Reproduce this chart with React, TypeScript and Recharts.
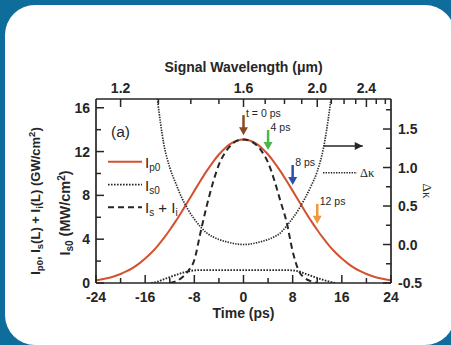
import React from 'react';
import { ComposedChart, Line, XAxis, YAxis, ReferenceDot, ReferenceLine, Legend } from 'recharts';

// ---------------- data ----------------
const timePs = [
  -24, -23, -22, -21, -20, -19, -18, -17, -16, -15, -14, -13, -12, -11, -10, -9, -8, -7, -6, -5, -4, -3, -2, -1,
  0, 1, 2, 3, 4, 5, 6, 7, 8, 9, 10, 11, 12, 13, 14, 15, 16, 17, 18, 19, 20, 21, 22, 23, 24,
];

// pump intensity I_p0 (GW/cm^2), left axis
const pumpIp0 = [
  0.24, 0.34, 0.46, 0.62, 0.82, 1.08, 1.39, 1.77, 2.23, 2.76, 3.37, 4.07, 4.84, 5.67, 6.56, 7.48, 8.41, 9.33, 10.21, 11.02, 11.73, 12.31, 12.74, 13.01,
  13.1, 13.01, 12.74, 12.31, 11.73, 11.02, 10.21, 9.33, 8.41, 7.48, 6.56, 5.67, 4.84, 4.07, 3.37, 2.76, 2.23, 1.77, 1.39, 1.08, 0.82, 0.62, 0.46, 0.34, 0.24,
];

// phase mismatch Δκ, right axis
const deltaKappa = [
  null, null, null, null, null, null, null, null, null,
  2.6, 1.88, 1.32, 1.0, 0.79, 0.6, 0.45, 0.33, 0.23, 0.15, 0.1, 0.065, 0.04, 0.02, 0.005,
  0,
  0.005, 0.02, 0.04, 0.065, 0.1, 0.15, 0.24, 0.34, 0.46, 0.6, 0.76, 0.95, 1.25, 1.75, 2.45,
  null, null, null, null, null, null, null, null, null,
];

// seed signal I_s0 (MW/cm^2), left axis
const signalIs0 = [
  null, null, null, null, null, null, null, null, null,
  0, 0.12, 0.33, 0.54, 0.74, 0.92, 1.06, 1.15,
  1.18, 1.18, 1.18, 1.18, 1.18, 1.18, 1.18, 1.18, 1.18, 1.18, 1.18, 1.18, 1.18, 1.18, 1.18,
  1.15, 1.06, 0.86, 0.66, 0.46, 0.28, 0.12, 0,
  null, null, null, null, null, null, null, null, null,
];

// I_s(L) + I_i(L) (GW/cm^2), left axis
const signalIdlerSum = [
  null, null, null, null, null, null, null, null, null, null, null, null,
  0, 0.15, 0.5, 1.1, 2.1, 4.6, 7.0, 9.1, 10.8, 11.9, 12.6, 13.0,
  13.1,
  13.0, 12.65, 12.0, 11.0, 9.4, 7.5, 5.6, 2.9, 1.1, 0.45, 0.15, 0,
  null, null, null, null, null, null, null, null, null, null, null, null,
];

const bottomTicks = [-24, -20, -16, -12, -8, -4, 0, 4, 8, 12, 16, 20, 24];
const bottomTickLabels = [-24, -16, -8, 0, 8, 16, 24];
const leftTicks = [0, 2, 4, 6, 8, 10, 12, 14, 16];
const leftTickLabels = [0, 4, 8, 12, 16];
const rightTicks = [-0.5, -0.25, 0, 0.25, 0.5, 0.75, 1.0, 1.25, 1.5, 1.75];
const rightTickLabels = [-0.5, 0, 0.5, 1.0, 1.5];
const wavelengthTicks = [1.2, 1.3, 1.4, 1.5, 1.6, 1.7, 1.8, 1.9, 2.0, 2.1, 2.2, 2.3, 2.4, 2.5, 2.6];
const wavelengthTickLabels = [1.2, 1.6, 2.0, 2.4];

const arrowTimes = [0, 4, 8, 12];
const arrowTipValues = [13.5, 12.15, 8.95, 5.4];
const arrowLabels = ['t = 0 ps', '4 ps', '8 ps', '12 ps'];
const arrowColors = ['#8a4a1f', '#4cb84a', '#2c4fae', '#f2973a'];

const kappaArrowStart = 13.05;
const kappaArrowEnd = 19.4;
const kappaArrowLevel = 1.28;

// ---------------- styling ----------------
const W = 451;
const H = 345;
const FONT = '"Liberation Sans", Arial, Helvetica, sans-serif';
const SERIF = '"Liberation Serif", "Times New Roman", serif';
const INK = '#262626';
const RED = '#d4512f';

// top axis is linear in optical frequency (1/λ), centred at 1.6 µm ↔ t = 0
const PS_PER_INV_UM = 96;
const wavelengthToTime = (lam: number) => -PS_PER_INV_UM * (1 / lam - 1 / 1.6);
const timeToWavelength = (t: number) => 1 / (1 / 1.6 - t / PS_PER_INV_UM);

const rows = timePs.map((t, i) => ({
  t,
  ip0: pumpIp0[i],
  dk: deltaKappa[i],
  is0: signalIs0[i],
  sum: signalIdlerSum[i],
}));

const isIn = (list: number[], v: number) => list.some((l) => Math.abs(l - v) < 1e-6);

const tickText = { fontFamily: FONT, fontWeight: 700, fontSize: 14, fill: INK } as const;

function LeftTick(props: any) {
  const { x, y, payload } = props;
  const v = payload.value;
  const major = isIn(leftTickLabels, v);
  return (
    <g>
      <line x1={x} y1={y} x2={x + (major ? 8 : 5)} y2={y} stroke={INK} strokeWidth={1.5} />
      {major && (
        <text x={x - 6} y={y} dy="0.36em" textAnchor="end" {...tickText}>
          {v}
        </text>
      )}
    </g>
  );
}

function RightTick(props: any) {
  const { x, y, payload } = props;
  const v = payload.value;
  const major = isIn(rightTickLabels, v);
  return (
    <g>
      <line x1={x} y1={y} x2={x - (major ? 8 : 5)} y2={y} stroke={INK} strokeWidth={1.5} />
      {major && (
        <text x={x + 7} y={y} dy="0.36em" textAnchor="start" {...tickText}>
          {v.toFixed(1)}
        </text>
      )}
    </g>
  );
}

function BottomTick(props: any) {
  const { x, y, payload } = props;
  const v = payload.value;
  const major = isIn(bottomTickLabels, v);
  return (
    <g>
      <line x1={x} y1={y} x2={x} y2={y - (major ? 8 : 5)} stroke={INK} strokeWidth={1.5} />
      {major && (
        <text x={x} y={y + 18.5} textAnchor="middle" {...tickText}>
          {v}
        </text>
      )}
    </g>
  );
}

function TopTick(props: any) {
  const { x, y, payload } = props;
  const lam = Math.round(timeToWavelength(payload.value) * 10) / 10;
  const major = isIn(wavelengthTickLabels, lam);
  return (
    <g>
      <line x1={x} y1={y} x2={x} y2={y + (major ? 8 : 5)} stroke={INK} strokeWidth={1.5} />
      {major && (
        <text x={x} y={y - 6} textAnchor="middle" {...tickText}>
          {lam.toFixed(1)}
        </text>
      )}
    </g>
  );
}

function TopTitle(props: any) {
  const vb = props.viewBox || { x: 96, y: 0, width: 295, height: 99 };
  const cx = vb.x + vb.width / 2;
  return (
    <text x={cx} y={vb.y + vb.height - 27} textAnchor="middle" fontFamily={FONT} fontWeight={700} fontSize={14} fill={INK}>
      Signal Wavelength (μm)
    </text>
  );
}

function BottomTitle(props: any) {
  const vb = props.viewBox || { x: 96, y: 283, width: 295, height: 62 };
  const cx = vb.x + vb.width / 2;
  return (
    <text x={cx} y={vb.y + 35} textAnchor="middle" fontFamily={FONT} fontWeight={700} fontSize={14} fill={INK}>
      Time (ps)
    </text>
  );
}

function LeftTitle(props: any) {
  const vb = props.viewBox || { x: 0, y: 99, width: 96, height: 184 };
  const x1 = vb.x + 40;
  const x2 = vb.x + 70;
  const cy1 = vb.y + vb.height / 2 + 10;
  const cy2 = vb.y + vb.height / 2 + 22;
  const sub = { fontSize: 9.5 };
  return (
    <g fontFamily={FONT} fontWeight={700} fill={INK}>
      <text x={x1} y={cy1} fontSize={13} textAnchor="middle" transform={`rotate(-90 ${x1} ${cy1})`}>
        I<tspan dy={3} {...sub}>p0</tspan>
        <tspan dy={-3}>{', I'}</tspan>
        <tspan dy={3} {...sub}>s</tspan>
        <tspan dy={-3}>{'(L) + I'}</tspan>
        <tspan dy={3} {...sub}>i</tspan>
        <tspan dy={-3}>{'(L) (GW/cm'}</tspan>
        <tspan dy={-5} {...sub}>2</tspan>
        <tspan dy={5}>)</tspan>
      </text>
      <text x={x2} y={cy2} fontSize={14.5} textAnchor="middle" transform={`rotate(-90 ${x2} ${cy2})`}>
        I<tspan dy={3} fontSize={10}>s0</tspan>
        <tspan dy={-3}>{'  (MW/cm'}</tspan>
        <tspan dy={-5} fontSize={10}>2</tspan>
        <tspan dy={5}>)</tspan>
      </text>
    </g>
  );
}

function RightTitle(props: any) {
  const vb = props.viewBox || { x: 391, y: 99, width: 60, height: 184 };
  const cx = vb.x + 37;
  const cy = vb.y + vb.height / 2;
  return (
    <text x={cx} y={cy} dy="0.35em" textAnchor="middle" transform={`rotate(90 ${cx} ${cy})`} fontFamily={SERIF} fontSize={13} fill={INK}>
      Δκ
    </text>
  );
}

function makeArrow(color: string, label: string) {
  return (p: any) => {
    const { cx, cy } = p;
    return (
      <g>
        <line x1={cx} y1={cy - 20} x2={cx} y2={cy - 7} stroke={color} strokeWidth={2.5} />
        <path d={`M${cx - 4.5},${cy - 8} L${cx + 4.5},${cy - 8} L${cx},${cy} Z`} fill={color} />
        <text x={cx + 2.5} y={cy - 18.5} fontFamily={FONT} fontSize={10.5} fill={INK}>
          {label}
        </text>
      </g>
    );
  };
}

const RightArrowHead = (p: any) => {
  const { cx, cy } = p;
  return <path d={`M${cx - 8},${cy - 4} L${cx},${cy} L${cx - 8},${cy + 4} Z`} fill={INK} />;
};

function Overlay() {
  const lx1 = 108;
  const lx2 = 142;
  const rowsY = [161.7, 184.7, 207.3];
  const label = { fontFamily: FONT, fontSize: 15, fill: INK } as const;
  const sub = 10;
  return (
    <svg width={W} height={H} style={{ position: 'absolute', left: 0, top: 0, overflow: 'visible', pointerEvents: 'none' }}>
      <text x={111} y={137} fontFamily={FONT} fontSize={15.5} fill={INK}>
        (a)
      </text>
      <line x1={lx1} y1={rowsY[0]} x2={lx2} y2={rowsY[0]} stroke={RED} strokeWidth={2} />
      <text x={145} y={rowsY[0] + 6} {...label}>
        I<tspan dy={3} fontSize={sub}>p0</tspan>
      </text>
      <line x1={lx1} y1={rowsY[1]} x2={lx2} y2={rowsY[1]} stroke={INK} strokeWidth={1.8} strokeDasharray="1.6 1.4" />
      <text x={145} y={rowsY[1] + 6} {...label}>
        I<tspan dy={3} fontSize={sub}>s0</tspan>
      </text>
      <line x1={lx1} y1={rowsY[2]} x2={lx2} y2={rowsY[2]} stroke={INK} strokeWidth={2} strokeDasharray="6 4" />
      <text x={145} y={rowsY[2] + 6} {...label}>
        I<tspan dy={3} fontSize={sub}>s</tspan>
        <tspan dy={-3}>{' + I'}</tspan>
        <tspan dy={3} fontSize={sub}>i</tspan>
      </text>
      <line x1={323} y1={172.7} x2={357} y2={172.7} stroke={INK} strokeWidth={1.5} strokeDasharray="1.4 1.2" />
      <text x={360} y={172.7} dy="0.35em" fontFamily={SERIF} fontSize={12.5} fill={INK}>
        Δκ
      </text>
    </svg>
  );
}

const axisLine = { stroke: INK, strokeWidth: 1.7 };

export default function App() {
  return (
    <div style={{ position: 'absolute', left: 0, top: 0, width: W, height: H, overflow: 'hidden', background: '#0e6d9a' }}>
      <div style={{ position: 'absolute', left: 5, top: 5, width: 450, height: 340, background: '#ffffff', borderRadius: 30 }} />
      <div style={{ position: 'absolute', left: 0, top: 0 }}>
        <ComposedChart width={W} height={H} data={rows} margin={{ top: 0, right: 0, bottom: 0, left: 0 }}>
          <XAxis
            xAxisId="bottom"
            dataKey="t"
            type="number"
            domain={[-24, 24]}
            allowDataOverflow
            ticks={bottomTicks}
            interval={0}
            height={62}
            tickSize={0}
            tickMargin={0}
            tickLine={false}
            axisLine={axisLine}
            tick={(p: any) => <BottomTick {...p} />}
            label={{ content: (p: any) => <BottomTitle {...p} /> }}
          />
          <XAxis
            xAxisId="top"
            orientation="top"
            dataKey="t"
            type="number"
            domain={[-24, 24]}
            allowDataOverflow
            ticks={wavelengthTicks.map(wavelengthToTime)}
            interval={0}
            height={99}
            tickSize={0}
            tickMargin={0}
            tickLine={false}
            axisLine={axisLine}
            tick={(p: any) => <TopTick {...p} />}
            label={{ content: (p: any) => <TopTitle {...p} /> }}
          />
          <YAxis
            yAxisId="left"
            type="number"
            domain={[0, 16.8]}
            allowDataOverflow
            ticks={leftTicks}
            interval={0}
            width={96}
            tickSize={0}
            tickMargin={0}
            tickLine={false}
            axisLine={axisLine}
            tick={(p: any) => <LeftTick {...p} />}
            label={{ content: (p: any) => <LeftTitle {...p} /> }}
          />
          <YAxis
            yAxisId="right"
            orientation="right"
            type="number"
            domain={[-0.5, 1.89]}
            allowDataOverflow
            ticks={rightTicks}
            interval={0}
            width={60}
            tickSize={0}
            tickMargin={0}
            tickLine={false}
            axisLine={axisLine}
            tick={(p: any) => <RightTick {...p} />}
            label={{ content: (p: any) => <RightTitle {...p} /> }}
          />
          <Legend layout="vertical" align="center" verticalAlign="middle" wrapperStyle={{ left: 0, top: 0, width: W, height: H, margin: 0 }} content={() => <Overlay />} />

          <Line xAxisId="bottom" yAxisId="left" dataKey="ip0" name="Ip0" type="monotone" stroke={RED} strokeWidth={2} dot={false} activeDot={false} isAnimationActive={false} />
          <Line xAxisId="bottom" yAxisId="right" dataKey="dk" name="Δκ" type="monotone" stroke="#2e2e2e" strokeWidth={1.7} strokeDasharray="1.4 1.2" dot={false} activeDot={false} isAnimationActive={false} />
          <Line xAxisId="bottom" yAxisId="left" dataKey="is0" name="Is0" type="monotone" stroke={INK} strokeWidth={1.9} strokeDasharray="1.6 1.4" dot={false} activeDot={false} isAnimationActive={false} />
          <Line xAxisId="bottom" yAxisId="left" dataKey="sum" name="Is + Ii" type="monotone" stroke={INK} strokeWidth={2} strokeDasharray="6 4" dot={false} activeDot={false} isAnimationActive={false} />

          {arrowTimes.map((t, i) => (
            <ReferenceDot
              key={`arrow-${i}`}
              xAxisId="bottom"
              yAxisId="left"
              x={t}
              y={arrowTipValues[i]}
              r={0}
              ifOverflow="visible"
              shape={makeArrow(arrowColors[i], arrowLabels[i])}
            />
          ))}
          <ReferenceLine
            xAxisId="bottom"
            yAxisId="right"
            segment={[
              { x: kappaArrowStart, y: kappaArrowLevel },
              { x: kappaArrowEnd, y: kappaArrowLevel },
            ]}
            stroke={INK}
            strokeWidth={1.6}
            ifOverflow="visible"
          />
          <ReferenceDot xAxisId="bottom" yAxisId="right" x={kappaArrowEnd} y={kappaArrowLevel} r={0} ifOverflow="visible" shape={RightArrowHead} />
        </ComposedChart>
      </div>
    </div>
  );
}
